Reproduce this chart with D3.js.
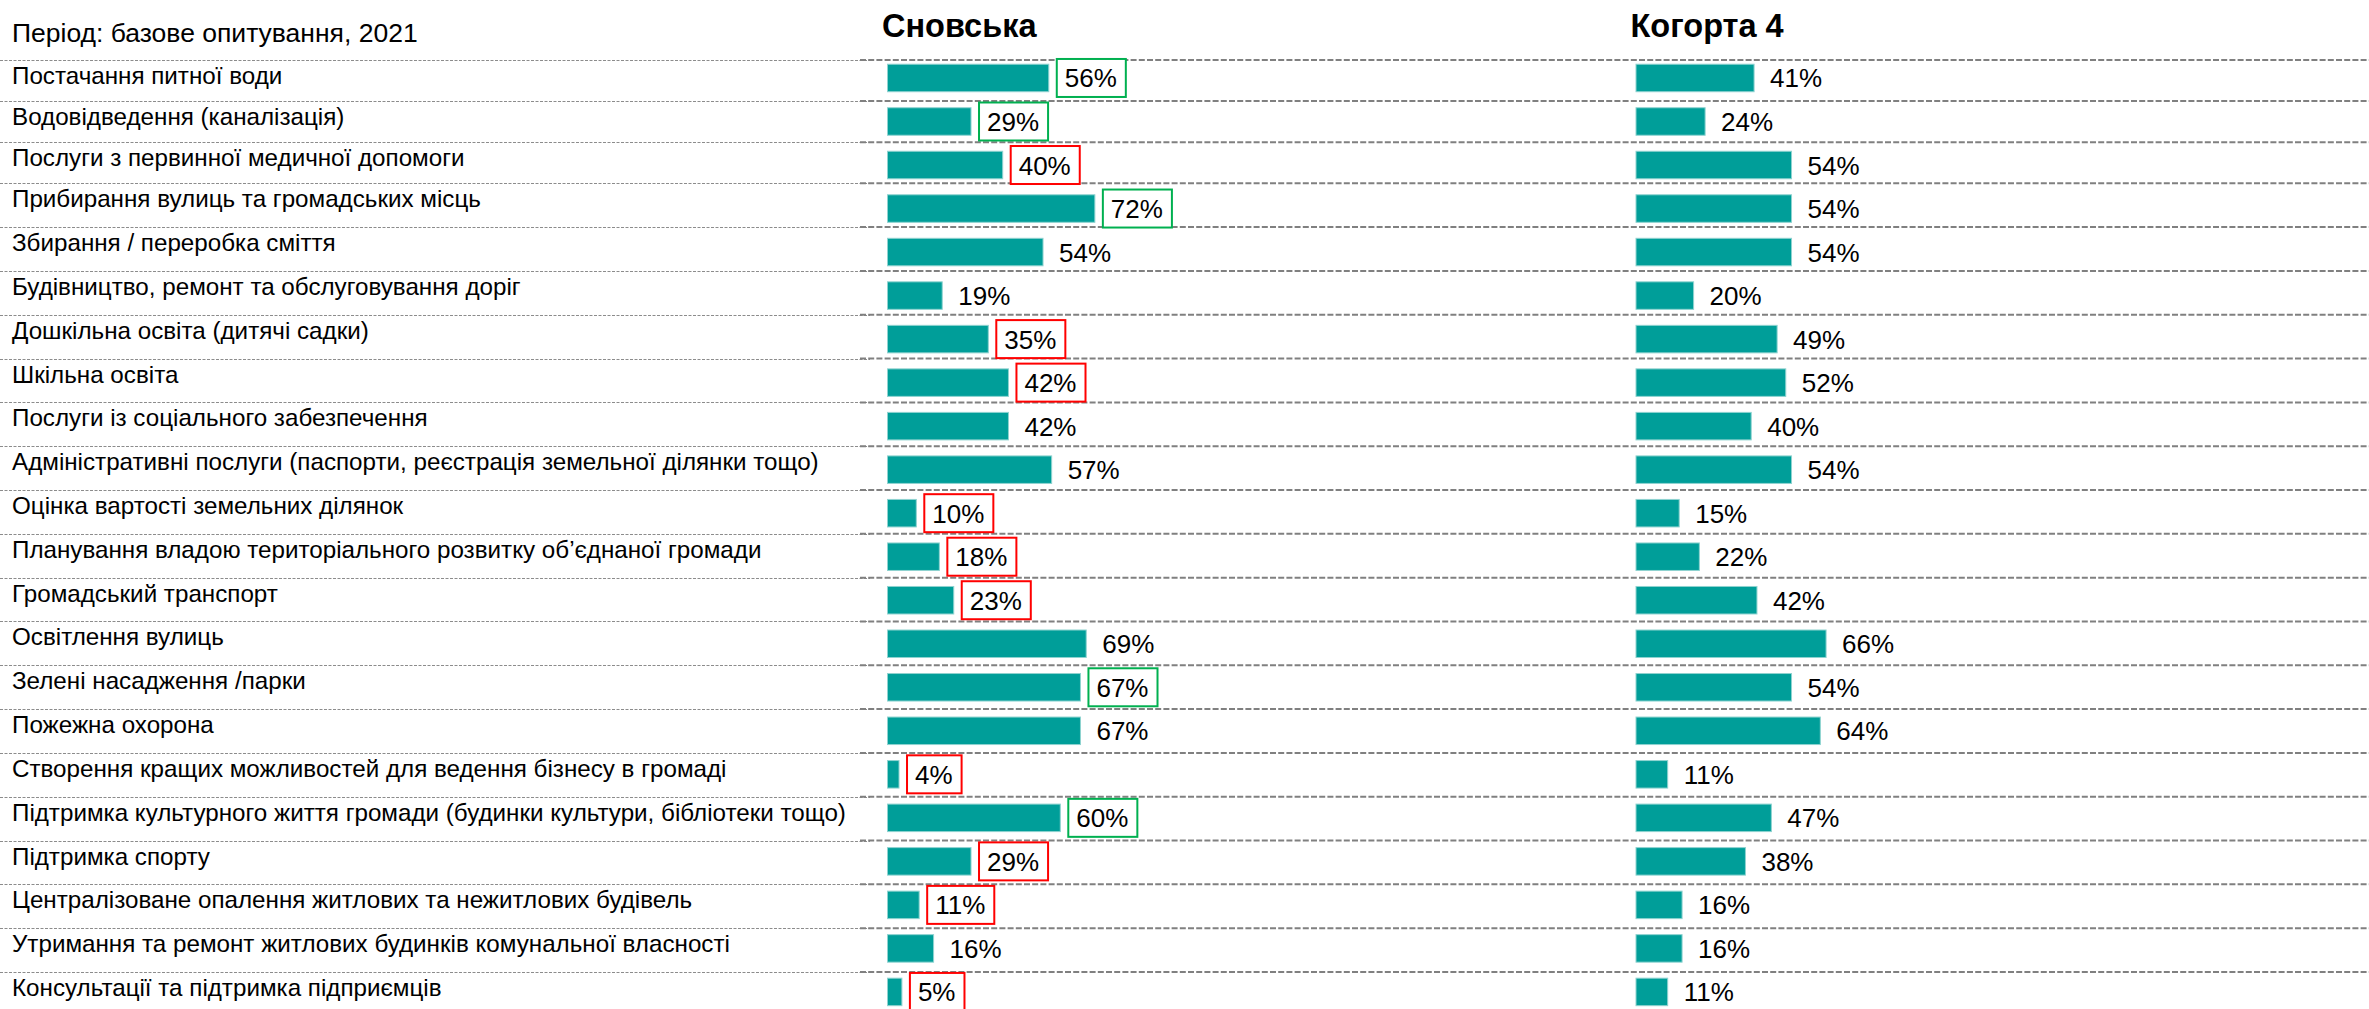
<!DOCTYPE html>
<html>
<head>
<meta charset="utf-8">
<script src="https://cdn.jsdelivr.net/npm/d3@7"></script>
<style>
  body { margin: 0; background: #fff; }
  svg { display: block; }
</style>
</head>
<body>
<div id="container"></div>
<script>
const periodLabel = "Період: базове опитування, 2021";
const columns = ["Сновська", "Когорта 4"];
const categories = [
  "Постачання питної води",
  "Водовідведення (каналізація)",
  "Послуги з первинної медичної допомоги",
  "Прибирання вулиць та громадських місць",
  "Збирання / переробка сміття",
  "Будівництво, ремонт та обслуговування доріг",
  "Дошкільна освіта (дитячі садки)",
  "Шкільна освіта",
  "Послуги із соціального забезпечення",
  "Адміністративні послуги (паспорти, реєстрація земельної ділянки тощо)",
  "Оцінка вартості земельних ділянок",
  "Планування владою територіального розвитку об’єднаної громади",
  "Громадський транспорт",
  "Освітлення вулиць",
  "Зелені насадження /парки",
  "Пожежна охорона",
  "Створення кращих можливостей для ведення бізнесу в громаді",
  "Підтримка культурного життя громади (будинки культури, бібліотеки тощо)",
  "Підтримка спорту",
  "Централізоване опалення житлових та нежитлових будівель",
  "Утримання та ремонт житлових будинків комунальної власності",
  "Консультації та підтримка підприємців"
];
const snovska = [56, 29, 40, 72, 54, 19, 35, 42, 42, 57, 10, 18, 23, 69, 67, 67, 4, 60, 29, 11, 16, 5];
const kohorta = [41, 24, 54, 54, 54, 20, 49, 52, 40, 54, 15, 22, 42, 66, 54, 64, 11, 47, 38, 16, 16, 11];
// comparison marks on the Сновська column: "up" = green box, "down" = red box
const snovskaMark = ["up", "up", "down", "up", "", "", "down", "down", "", "", "down", "down", "down", "", "up", "", "down", "up", "down", "down", "", "down"];

const W = 2369, H = 1009;
const font = "Arial, 'Liberation Sans', sans-serif";
const teal = "#009e99";

let svg = d3.select("#container")
  .append("svg")
  .attr("width", W)
  .attr("height", H);

// bars sit on an even grid, the table lines do not quite
let y = d3.scaleBand()
  .domain(categories)
  .range([48.2, 1021.7])
  .padding(0.368);

let rowLine = d3.scaleLinear()
  .domain([0, 3, 21])
  .range([60, 183.3, 972]);

let x = d3.scaleLinear()
  .domain([0, 100])
  .range([0, 288]);

let colX = d3.scaleOrdinal()
  .domain(columns)
  .range([887.5, 1636]);

// dashed separators
let lines = svg.append("g").attr("class", "lines");
lines.selectAll(".sepL")
  .data(categories)
  .enter()
  .append("line")
  .attr("class", "sepL")
  .attr("x1", 0)
  .attr("x2", 870)
  .attr("y1", (d, i) => Math.round(rowLine(i)) + 0.5)
  .attr("y2", (d, i) => Math.round(rowLine(i)) + 0.5)
  .attr("stroke", "#8c8c8c")
  .attr("stroke-width", 1)
  .attr("stroke-dasharray", "3,1.5");
lines.selectAll(".sepR")
  .data(categories)
  .enter()
  .append("line")
  .attr("class", "sepR")
  .attr("x1", 860)
  .attr("x2", W)
  .attr("y1", (d, i) => rowLine(i))
  .attr("y2", (d, i) => rowLine(i))
  .attr("stroke", "#808080")
  .attr("stroke-width", 2)
  .attr("stroke-dasharray", "6,2.2");

svg.append("text")
  .text(periodLabel)
  .attr("x", 12)
  .attr("y", 42)
  .attr("font-family", font)
  .attr("font-size", 26.5)
  .attr("fill", "black");

// category labels
svg.selectAll(".cat")
  .data(categories)
  .enter()
  .append("text")
  .attr("class", "cat")
  .text(d => d)
  .attr("x", 12)
  .attr("y", (d, i) => rowLine(i) + 24)
  .attr("font-family", font)
  .attr("font-size", 24.2)
  .attr("fill", "black");

// column headers
svg.selectAll(".head")
  .data(columns)
  .enter()
  .append("text")
  .attr("class", "head")
  .text(d => d)
  .attr("x", d => colX(d) - 5.5)
  .attr("y", 37)
  .attr("font-family", font)
  .attr("font-weight", "bold")
  .attr("font-size", 32.5)
  .attr("fill", "black");

function drawColumn(name, values, marks) {
  let g = svg.append("g").attr("class", "col").attr("transform", "translate(" + colX(name) + ",0)");
  let rows = categories.map((c, i) => ({ cat: c, v: values[i], mark: marks ? marks[i] : "" }));

  g.selectAll(".bar")
    .data(rows)
    .enter()
    .append("rect")
    .attr("class", "bar")
    .attr("x", 0)
    .attr("y", d => y(d.cat))
    .attr("width", d => x(d.v))
    .attr("height", y.bandwidth())
    .attr("fill", teal)
    .attr("stroke", "#8fd3d0")
    .attr("stroke-width", 1);

  let lab = g.selectAll(".val")
    .data(rows)
    .enter()
    .append("g")
    .attr("class", "val");

  lab.append("text")
    .text(d => d.v + "%")
    .attr("x", d => x(d.v) + 16)
    .attr("y", d => y(d.cat) + y.bandwidth() / 2 + 9.5)
    .attr("font-family", font)
    .attr("font-size", 26)
    .attr("fill", "black");

  lab.filter(d => d.mark !== "")
    .insert("rect", "text")
    .attr("x", d => x(d.v) + 8)
    .attr("y", d => y(d.cat) + y.bandwidth() / 2 - 19)
    .attr("width", function () {
      let t = d3.select(this.parentNode).select("text").node();
      return t.getComputedTextLength() + 17;
    })
    .attr("height", 38)
    .attr("fill", "white")
    .attr("stroke", d => d.mark === "up" ? "#00b050" : "#ff0000")
    .attr("stroke-width", 2);
}

drawColumn(columns[0], snovska, snovskaMark);
drawColumn(columns[1], kohorta, null);
</script>
</body>
</html>
